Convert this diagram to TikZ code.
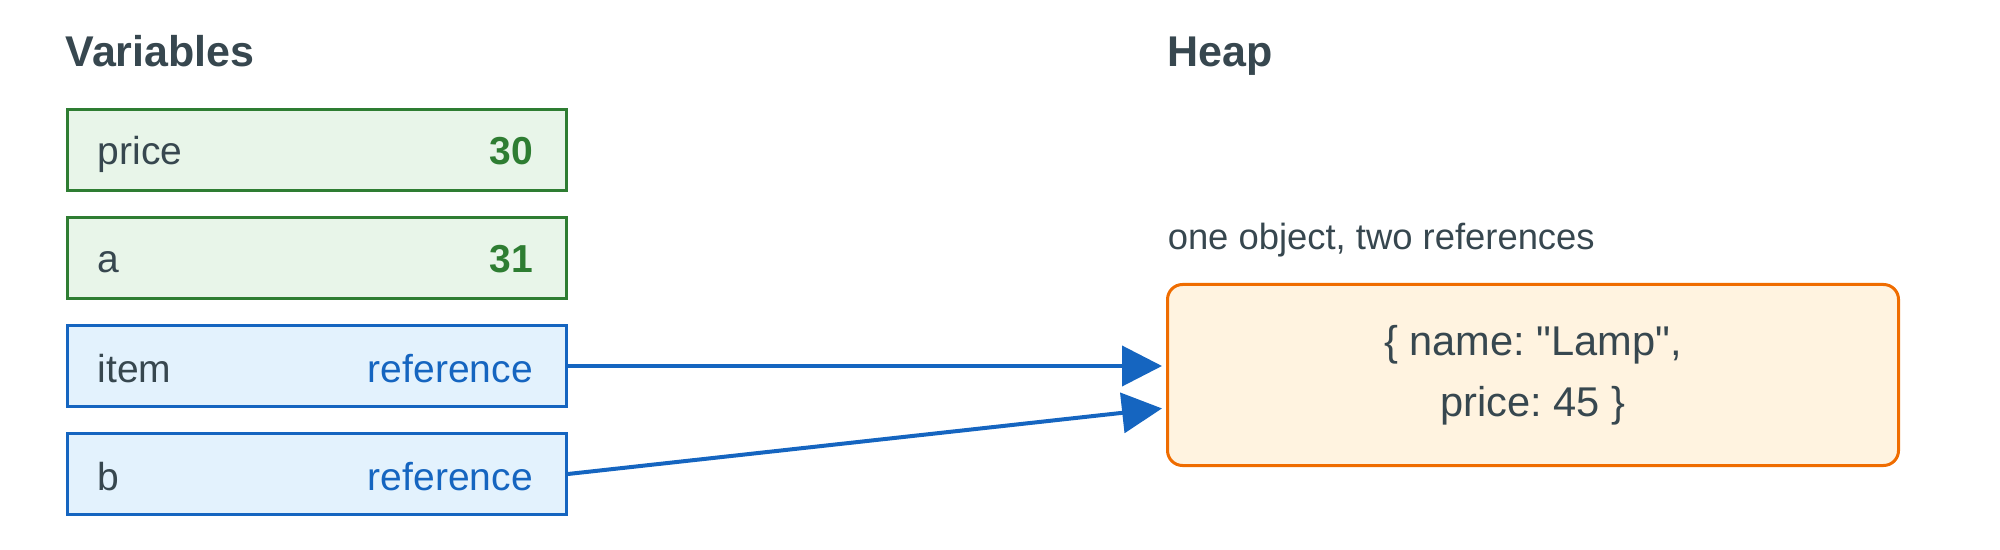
\documentclass[tikz,border=0pt]{standalone}
\usepackage{fontspec}
\setmainfont{Liberation Sans}
\usetikzlibrary{arrows.meta}
\frenchspacing

\definecolor{inkgrey}{RGB}{55,71,79}
\definecolor{valgreen}{RGB}{46,125,50}
\definecolor{valfill}{RGB}{232,245,233}
\definecolor{refblue}{RGB}{21,101,192}
\definecolor{reffill}{RGB}{227,242,253}
\definecolor{heaporange}{RGB}{239,108,0}
\definecolor{heapfill}{RGB}{255,243,224}

\tikzset{every picture/.style={line width=0.75pt}}
\tikzset{
  valbox/.style={draw=valgreen, fill=valfill, line width=1.5pt, minimum width=249.5pt, minimum height=40.5pt, inner sep=0pt},
  refbox/.style={draw=refblue, fill=reffill, line width=1.5pt, minimum width=249.5pt, minimum height=40.5pt, inner sep=0pt},
  heapbox/.style={draw=heaporange, fill=heapfill, line width=1.5pt, rounded corners=7.5pt, minimum width=365.5pt, minimum height=90.5pt, inner sep=0pt, align=center, text=inkgrey, font=\fontsize{20.8}{30.5}\selectfont},
  reflink/.style={draw=refblue, line width=2pt, -{Triangle[length=20pt,width=20pt]}, shorten >=2pt},
  varname/.style={anchor=base west, inner sep=0pt, text=inkgrey, font=\fontsize{19.5}{23}\selectfont},
  title/.style={anchor=base west, inner sep=0pt, text=inkgrey, font=\fontsize{21.5}{26}\selectfont\bfseries},
}

\begin{document}
\begin{tikzpicture}[x=0.5pt,y=0.5pt,yscale=-1,xscale=1]
\useasboundingbox (0,0) rectangle (2000,550);

%Shape: Variable boxes
\node [valbox] (price) at (317,150) {};
\node [valbox] (a) at (317,258) {};
\node [refbox] (item) at (317,366) {};
\node [refbox] (b) at (317,474) {};
%Shape: Heap object
\node [heapbox] (heap) at (1533,375) {\{ name: \textquotedbl Lamp\textquotedbl,\\price: 45 \}};

%Straight Lines: references
\draw [reflink] (item.east) -- ([yshift=-4.5pt]heap.west);
\draw [reflink] (b.east) -- ([yshift=16.5pt]heap.west);

% Text Node
\draw (65,67) node [title] (vartitle) {Variables};
% Text Node
\draw (1167,67) node [title] (heaptitle) {Heap};
% Text Node
\draw (1167,250) node [anchor=base west][inner sep=0pt][text=inkgrey, font=\fontsize{18.2}{22}\selectfont] (heapnote) {one object, two references};
% Text Node
\draw (97,165) node [varname] (pricename) {price};
\draw (533.5,165) node [anchor=base east][inner sep=0pt][text=valgreen, font=\fontsize{19.5}{23}\selectfont\bfseries] (priceval) {30};
% Text Node
\draw (97,273) node [varname] (aname) {a};
\draw (533.5,273) node [anchor=base east][inner sep=0pt][text=valgreen, font=\fontsize{19.5}{23}\selectfont\bfseries] (aval) {31};
% Text Node
\draw (97,382) node [varname] (itemname) {item};
\draw (533.5,382) node [anchor=base east][inner sep=0pt][text=refblue, font=\fontsize{19.5}{23}\selectfont] (itemval) {reference};
% Text Node
\draw (97,490) node [varname] (bname) {b};
\draw (533.5,490) node [anchor=base east][inner sep=0pt][text=refblue, font=\fontsize{19.5}{23}\selectfont] (bval) {reference};

\end{tikzpicture}
\end{document}
